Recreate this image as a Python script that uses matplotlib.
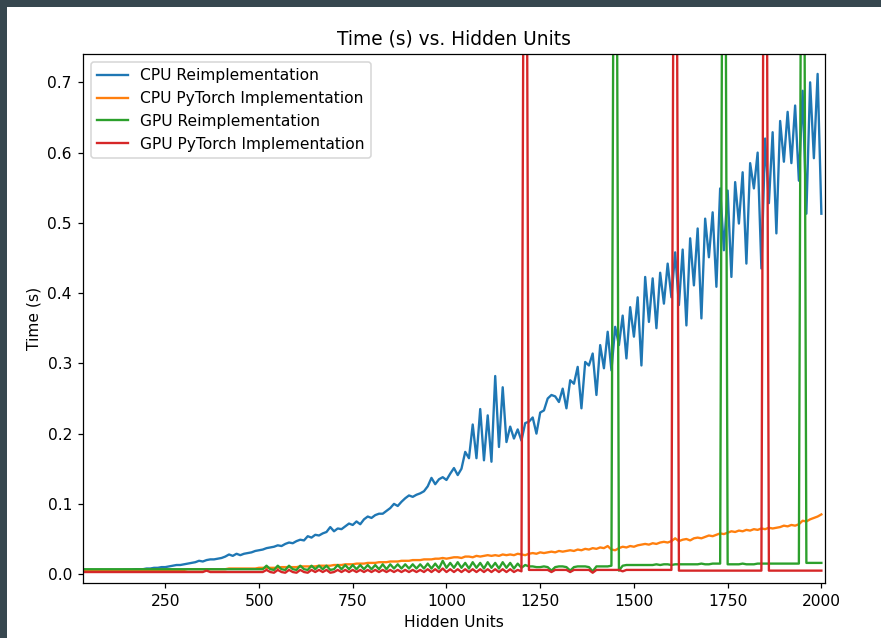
import matplotlib.pyplot as plt
from matplotlib.patches import Rectangle

# Hidden units on the x axis (step of 10)
hidden_units = list(range(30, 2001, 10))

# Time (s) for each implementation, one row = 10 points
cpu_reimpl = [
    0.004, 0.004, 0.004, 0.004, 0.004, 0.004, 0.005, 0.005, 0.005, 0.005,
    0.005, 0.006, 0.006, 0.006, 0.007, 0.007, 0.007, 0.008, 0.008, 0.009,
    0.009, 0.010, 0.010, 0.011, 0.012, 0.013, 0.013, 0.014, 0.015, 0.016,
    0.017, 0.019, 0.018, 0.020, 0.021, 0.021, 0.022, 0.023, 0.025, 0.028,
    0.026, 0.029, 0.027, 0.029, 0.030, 0.031, 0.033, 0.034, 0.035, 0.037,
    0.038, 0.039, 0.041, 0.040, 0.043, 0.045, 0.044, 0.047, 0.049, 0.048,
    0.054, 0.052, 0.056, 0.055, 0.058, 0.060, 0.067, 0.061, 0.065, 0.064,
    0.068, 0.072, 0.070, 0.075, 0.071, 0.078, 0.082, 0.080, 0.084, 0.086,
    0.086, 0.090, 0.094, 0.100, 0.097, 0.103, 0.108, 0.112, 0.110, 0.113,
    0.115, 0.118, 0.125, 0.137, 0.128, 0.135, 0.138, 0.134, 0.143, 0.151,
    0.141, 0.150, 0.174, 0.165, 0.213, 0.165, 0.235, 0.162, 0.226, 0.160,
    0.282, 0.181, 0.266, 0.188, 0.210, 0.193, 0.206, 0.190, 0.215, 0.217,
    0.223, 0.200, 0.230, 0.233, 0.250, 0.255, 0.253, 0.245, 0.264, 0.236,
    0.276, 0.271, 0.295, 0.236, 0.302, 0.297, 0.314, 0.255, 0.326, 0.293,
    0.345, 0.290, 0.352, 0.326, 0.368, 0.307, 0.380, 0.338, 0.394, 0.297,
    0.423, 0.359, 0.421, 0.350, 0.429, 0.385, 0.442, 0.394, 0.458, 0.383,
    0.462, 0.354, 0.478, 0.411, 0.492, 0.364, 0.506, 0.451, 0.515, 0.409,
    0.549, 0.461, 0.546, 0.423, 0.558, 0.499, 0.572, 0.442, 0.585, 0.549,
    0.600, 0.435, 0.620, 0.528, 0.629, 0.485, 0.645, 0.587, 0.658, 0.585,
    0.667, 0.560, 0.688, 0.513, 0.700, 0.592, 0.712, 0.513,
]

cpu_pytorch = [
    0.005, 0.005, 0.005, 0.005, 0.005, 0.005, 0.005, 0.005, 0.005, 0.005,
    0.005, 0.005, 0.005, 0.005, 0.005, 0.006, 0.006, 0.006, 0.006, 0.006,
    0.006, 0.006, 0.006, 0.006, 0.006, 0.006, 0.006, 0.006, 0.007, 0.007,
    0.007, 0.007, 0.007, 0.007, 0.007, 0.007, 0.007, 0.007, 0.007, 0.008,
    0.008, 0.008, 0.008, 0.008, 0.008, 0.008, 0.008, 0.009, 0.009, 0.009,
    0.009, 0.009, 0.009, 0.010, 0.010, 0.010, 0.010, 0.010, 0.011, 0.011,
    0.011, 0.011, 0.011, 0.012, 0.012, 0.012, 0.012, 0.013, 0.013, 0.013,
    0.014, 0.014, 0.014, 0.015, 0.015, 0.015, 0.016, 0.016, 0.016, 0.017,
    0.017, 0.017, 0.018, 0.018, 0.018, 0.019, 0.019, 0.019, 0.020, 0.020,
    0.020, 0.021, 0.021, 0.021, 0.022, 0.022, 0.023, 0.022, 0.023, 0.024,
    0.024, 0.023, 0.025, 0.025, 0.024, 0.026, 0.025, 0.026, 0.027, 0.026,
    0.027, 0.026, 0.028, 0.027, 0.028, 0.027, 0.029, 0.028, 0.027, 0.029,
    0.030, 0.029, 0.031, 0.030, 0.031, 0.032, 0.031, 0.033, 0.032, 0.033,
    0.034, 0.033, 0.035, 0.034, 0.036, 0.035, 0.037, 0.036, 0.038, 0.037,
    0.040, 0.035, 0.034, 0.037, 0.039, 0.038, 0.040, 0.039, 0.041, 0.042,
    0.043, 0.042, 0.044, 0.043, 0.045, 0.046, 0.045, 0.047, 0.051, 0.047,
    0.049, 0.050, 0.048, 0.051, 0.052, 0.051, 0.053, 0.055, 0.054, 0.056,
    0.058, 0.057, 0.059, 0.061, 0.060, 0.062, 0.061, 0.063, 0.062, 0.064,
    0.063, 0.065, 0.064, 0.066, 0.065, 0.066, 0.067, 0.069, 0.068, 0.070,
    0.069, 0.071, 0.076, 0.075, 0.078, 0.080, 0.082, 0.085,
]

gpu_reimpl = [
    0.007, 0.007, 0.007, 0.007, 0.007, 0.007, 0.007, 0.007, 0.007, 0.007,
    0.007, 0.007, 0.007, 0.007, 0.007, 0.007, 0.007, 0.007, 0.007, 0.007,
    0.007, 0.007, 0.007, 0.007, 0.007, 0.007, 0.007, 0.007, 0.007, 0.007,
    0.007, 0.007, 0.007, 0.007, 0.007, 0.007, 0.007, 0.007, 0.007, 0.007,
    0.007, 0.007, 0.007, 0.007, 0.007, 0.007, 0.007, 0.007, 0.007, 0.012,
    0.007, 0.006, 0.012, 0.007, 0.006, 0.012, 0.007, 0.006, 0.012, 0.007,
    0.006, 0.012, 0.007, 0.012, 0.007, 0.012, 0.006, 0.007, 0.013, 0.007,
    0.013, 0.007, 0.013, 0.007, 0.013, 0.007, 0.013, 0.007, 0.013, 0.007,
    0.014, 0.007, 0.014, 0.008, 0.014, 0.008, 0.014, 0.008, 0.014, 0.008,
    0.014, 0.008, 0.015, 0.008, 0.015, 0.008, 0.019, 0.009, 0.016, 0.009,
    0.017, 0.009, 0.016, 0.008, 0.017, 0.009, 0.016, 0.008, 0.017, 0.009,
    0.016, 0.008, 0.017, 0.009, 0.016, 0.008, 0.015, 0.009, 0.013, 0.011,
    0.011, 0.010, 0.010, 0.011, 0.010, 0.005, 0.010, 0.011, 0.011, 0.010,
    0.005, 0.010, 0.011, 0.011, 0.011, 0.010, 0.004, 0.011, 0.011, 0.011,
    0.011, 0.012, 1.600, 0.005, 0.012, 0.013, 0.013, 0.013, 0.013, 0.013,
    0.013, 0.013, 0.013, 0.014, 0.013, 0.014, 0.014, 0.013, 0.014, 0.014,
    0.014, 0.014, 0.014, 0.014, 0.014, 0.015, 0.014, 0.014, 0.015, 0.015,
    0.015, 1.600, 0.014, 0.014, 0.014, 0.014, 0.015, 0.014, 0.014, 0.014,
    0.015, 0.015, 0.015, 0.015, 0.015, 0.015, 0.015, 0.015, 0.015, 0.015,
    0.015, 0.015, 1.600, 0.016, 0.016, 0.016, 0.016, 0.016,
]

gpu_pytorch = [
    0.003, 0.003, 0.003, 0.003, 0.003, 0.003, 0.003, 0.003, 0.003, 0.003,
    0.003, 0.003, 0.003, 0.003, 0.003, 0.003, 0.003, 0.003, 0.003, 0.003,
    0.003, 0.003, 0.003, 0.003, 0.003, 0.003, 0.003, 0.003, 0.003, 0.003,
    0.003, 0.003, 0.003, 0.005, 0.003, 0.003, 0.003, 0.003, 0.003, 0.003,
    0.003, 0.003, 0.003, 0.003, 0.003, 0.003, 0.003, 0.003, 0.003, 0.006,
    0.003, 0.002, 0.006, 0.003, 0.002, 0.006, 0.003, 0.002, 0.006, 0.003,
    0.002, 0.006, 0.003, 0.006, 0.003, 0.006, 0.002, 0.003, 0.006, 0.003,
    0.006, 0.003, 0.006, 0.003, 0.006, 0.003, 0.006, 0.003, 0.006, 0.003,
    0.006, 0.003, 0.006, 0.003, 0.006, 0.003, 0.006, 0.003, 0.006, 0.003,
    0.006, 0.003, 0.007, 0.003, 0.007, 0.003, 0.008, 0.003, 0.007, 0.003,
    0.007, 0.003, 0.007, 0.003, 0.007, 0.003, 0.007, 0.003, 0.007, 0.003,
    0.007, 0.003, 0.007, 0.003, 0.007, 0.003, 0.006, 0.004, 1.600, 0.006,
    0.006, 0.006, 0.006, 0.006, 0.006, 0.003, 0.006, 0.006, 0.006, 0.006,
    0.003, 0.006, 0.006, 0.006, 0.006, 0.006, 0.002, 0.006, 0.006, 0.006,
    0.006, 0.006, 0.006, 0.006, 0.004, 0.006, 0.006, 0.006, 0.006, 0.006,
    0.006, 0.006, 0.006, 0.006, 0.006, 0.006, 0.006, 0.006, 1.600, 0.005,
    0.005, 0.005, 0.005, 0.005, 0.005, 0.005, 0.005, 0.005, 0.005, 0.005,
    0.005, 0.005, 0.005, 0.005, 0.005, 0.005, 0.005, 0.005, 0.005, 0.005,
    0.005, 0.005, 1.600, 0.005, 0.005, 0.005, 0.005, 0.005, 0.005, 0.005,
    0.005, 0.005, 0.005, 0.005, 0.005, 0.005, 0.005, 0.005,
]

fig = plt.figure(figsize=(881 / 112, 638 / 112), dpi=112)
ax = fig.add_axes([0.094, 0.086, 0.843, 0.829])

ax.plot(hidden_units, cpu_reimpl, label='CPU Reimplementation')
ax.plot(hidden_units, cpu_pytorch, label='CPU PyTorch Implementation')
ax.plot(hidden_units, gpu_reimpl, label='GPU Reimplementation')
ax.plot(hidden_units, gpu_pytorch, label='GPU PyTorch Implementation')

ax.set_xlim(30, 2011)
ax.set_ylim(-0.0128, 0.74)
ax.set_title('Time (s) vs. Hidden Units')
ax.set_xlabel('Hidden Units')
ax.set_ylabel('Time (s)')
ax.legend(loc='upper left')

# dark screenshot border on top and left
fig.add_artist(Rectangle((0, 1 - 7 / 638), 1, 7 / 638, transform=fig.transFigure,
                         facecolor='#37474f', edgecolor='none'))
fig.add_artist(Rectangle((0, 0), 7 / 881, 1, transform=fig.transFigure,
                         facecolor='#37474f', edgecolor='none'))

plt.savefig('out.png', dpi=112)
